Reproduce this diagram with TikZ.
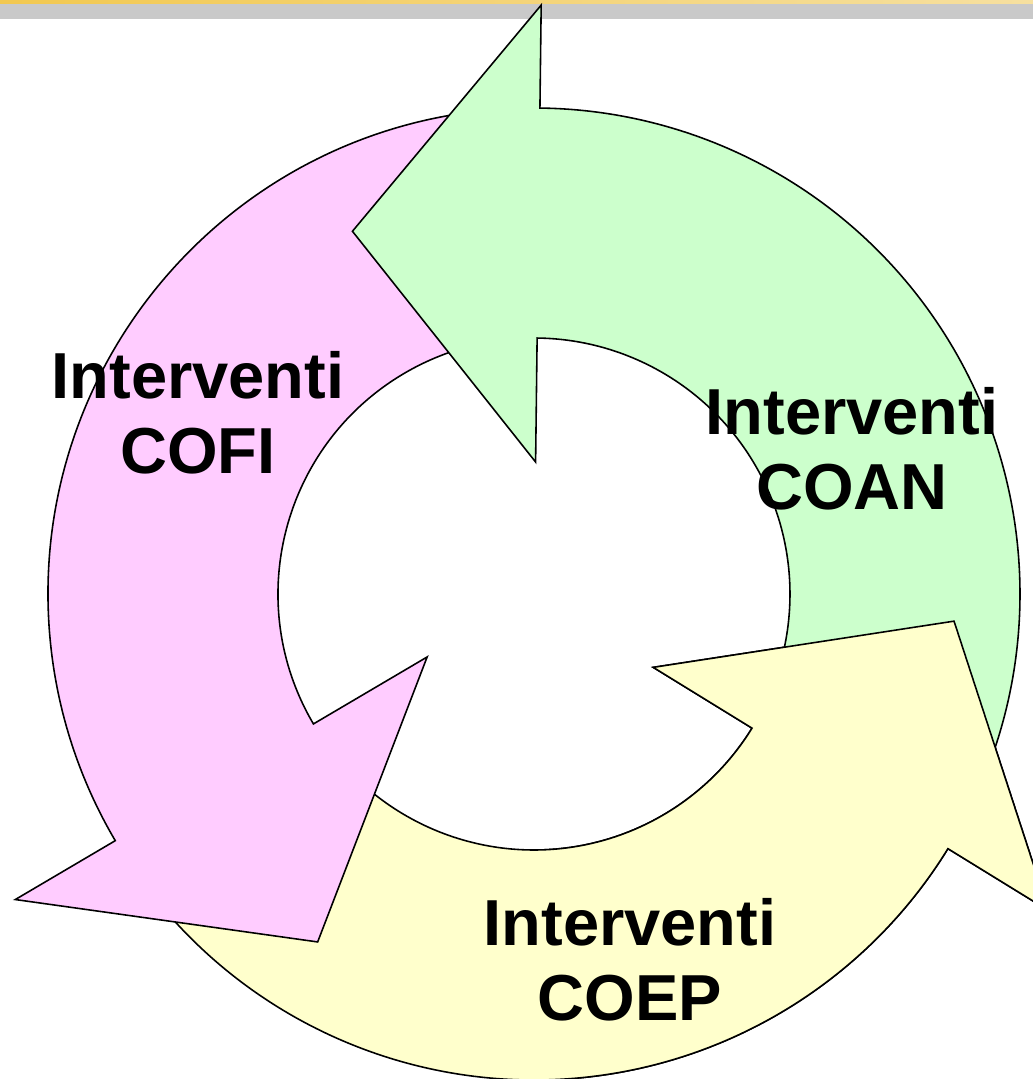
\documentclass[tikz,border=0pt]{standalone}
\usepackage{fontspec}
\setmainfont{Liberation Sans}
\usepackage{tikz}
\usetikzlibrary{calc}

\definecolor{rosa}{RGB}{255,204,255}
\definecolor{verde}{RGB}{204,255,204}
\definecolor{amarillo}{RGB}{255,255,204}
\definecolor{gris}{RGB}{201,201,201}

\newcommand{\Rext}{4.86}
\newcommand{\Rint}{2.56}
% Flecha circular: #1 cola, #2 base de la punta, #3 radio de la punta, #4 media anchura, #5 largo
\newcommand{\flecha}[5]{($(C)+(#1:\Rext)$) arc[start angle=#1, end angle=#2, radius=\Rext]
  -- ($(C)+(#2:#3+#4)$) -- ($(C)+(#2:#3)+(#2+90:#5)$) -- ($(C)+(#2:#3-#4)$)
  -- ($(C)+(#2:\Rint)$) arc[start angle=#2, end angle=#1, radius=\Rint] -- cycle}

\begin{document}
\begin{tikzpicture}[
    trazo/.style={draw=black, line width=0.45pt, line join=miter},
    rotulo/.style={align=center, inner sep=0pt, font=\bfseries\fontsize{18.5}{21.3}\selectfont}
  ]
    \useasboundingbox (0,0) rectangle (10.33,-10.79);
    \clip (0,0) rectangle (10.33,-10.79);
    % Banda superior
    \fill[gris] (0,-0.03) rectangle (10.33,-0.19);
    \shade[left color={rgb,255:red,242;green,200;blue,80}, right color={rgb,255:red,246;green,224;blue,160}] (0,0) rectangle (10.33,-0.03);
    \coordinate (C) at (5.34,-5.94);
    % Las tres flechas
    \filldraw[trazo, fill=amarillo] \flecha{218}{328.4}{3.72}{2.32}{1.97};
    \filldraw[trazo, fill=rosa] \flecha{95}{210.5}{3.63}{2.39}{1.90};
    \filldraw[trazo, fill=verde] \flecha{-25}{89.3}{3.605}{2.285}{1.86};
    % La punta amarilla queda encima de la cola verde
    \begin{scope}
        \clip (5.40,-5) rectangle (11,-11);
        \filldraw[trazo, fill=amarillo] \flecha{218}{328.4}{3.72}{2.32}{1.97};
    \end{scope}
    % Textos
    \node[rotulo] (cofi) at (1.98,-4.13) {Interventi\\COFI};
    \node[rotulo] (coan) at (8.52,-4.49) {Interventi\\COAN};
    \node[rotulo] (coep) at (6.30,-9.60) {Interventi\\COEP};
\end{tikzpicture}
\end{document}
